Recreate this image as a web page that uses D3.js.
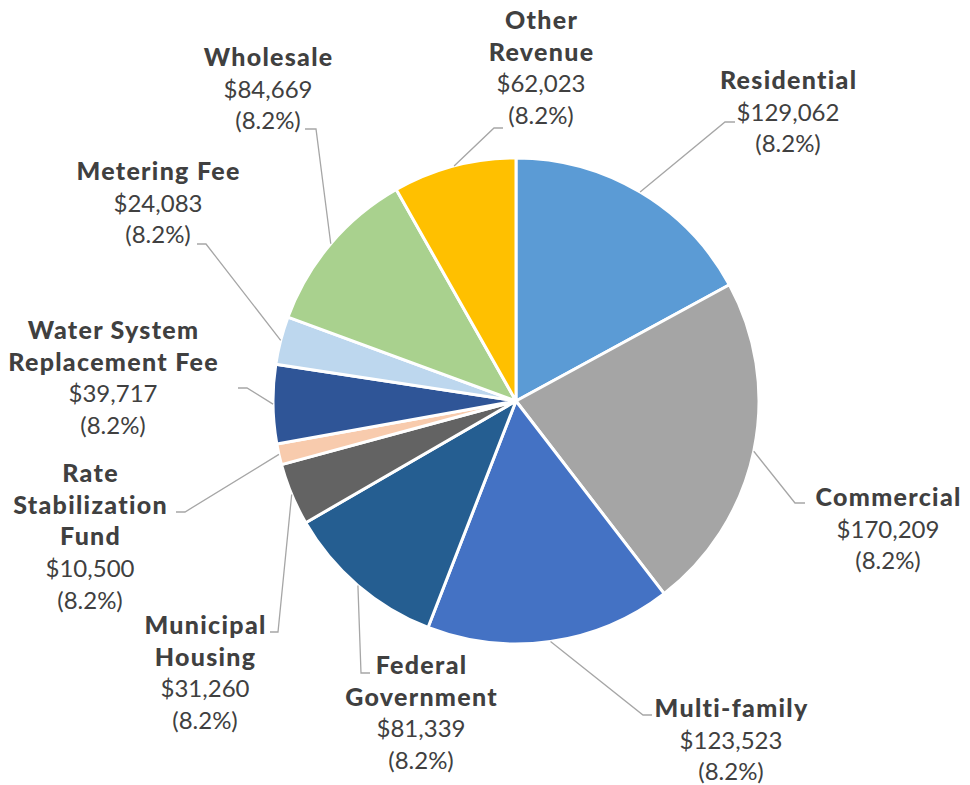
<!DOCTYPE html>
<html lang="en">
<head>
<meta charset="utf-8">
<title>Revenue pie</title>
<script src="https://cdn.jsdelivr.net/npm/d3@7"></script>
<style>
  html, body { margin: 0; padding: 0; background: #ffffff; }
  svg { display: block; font-family: Lato, "Open Sans", sans-serif; }
</style>
</head>
<body>
<script>
// chart data
var names = [["Residential"], ["Commercial"], ["Multi-family"], ["Federal", "Government"],
             ["Municipal", "Housing"], ["Rate", "Stabilization", "Fund"],
             ["Water System", "Replacement Fee"], ["Metering Fee"], ["Wholesale"], ["Other", "Revenue"]];
var amounts = [129062, 170209, 123523, 81339, 31260, 10500, 39717, 24083, 84669, 62023];
var pctLabels = ["(8.2%)", "(8.2%)", "(8.2%)", "(8.2%)", "(8.2%)", "(8.2%)", "(8.2%)", "(8.2%)", "(8.2%)", "(8.2%)"];
var colors = ["#5B9BD5", "#A5A5A5", "#4472C4", "#255E91", "#636363", "#F8CBAD", "#2F5597", "#BDD7EE", "#A9D18E", "#FFC000"];

// label layout: text centre x, first baseline y, leader elbow and end
var labelX = [788, 888, 731, 421, 205, 90, 113, 158, 268, 541];
var labelY = [89, 506, 717, 674, 634, 482, 339, 180, 66, 29];
var elbows = [[725, 122, 735], [795, 503, 805], [643, 715, 652], [361, 673, 370], [278, 632, 270],
              [185, 512, 176], [247, 388, 238], [206, 244, 197], [316, 129, 305], [494, 128, 503]];

var w = 970, h = 785;
var cx = 516, cy = 401, r = 243;
var lineH = 31.7;

var svg = d3.select("body").append("svg")
  .attr("width", w)
  .attr("height", h);

var pie = d3.pie().sort(null).value(function(d) { return d; });
var arcs = pie(amounts);
var arc = d3.arc().innerRadius(0).outerRadius(r);

var g = svg.append("g").attr("transform", "translate(" + cx + "," + cy + ")");

g.selectAll("path.slice")
  .data(arcs)
  .enter()
  .append("path")
  .attr("class", "slice")
  .attr("d", arc)
  .attr("fill", function(d, i) { return colors[i]; })
  .attr("stroke", "#ffffff")
  .attr("stroke-width", 3)
  .attr("stroke-linejoin", "round");

// leader lines
arcs.forEach(function(d, i) {
  var mid = (d.startAngle + d.endAngle) / 2;
  var sx = cx + r * Math.sin(mid);
  var sy = cy - r * Math.cos(mid);
  var e = elbows[i];
  svg.append("polyline")
    .attr("points", sx + "," + sy + " " + e[0] + "," + e[1] + " " + e[2] + "," + e[1])
    .attr("fill", "none")
    .attr("stroke", "#A6A6A6")
    .attr("stroke-width", 1.3);
});

// labels
names.forEach(function(nm, i) {
  var t = svg.append("text")
    .attr("text-anchor", "middle")
    .attr("fill", "#404040");
  var lines = nm.map(function(s) { return { s: s, bold: true }; });
  lines.push({ s: "$" + d3.format(",")(amounts[i]), bold: false });
  lines.push({ s: pctLabels[i], bold: false });
  lines.forEach(function(l, k) {
    t.append("tspan")
      .attr("x", labelX[i] + (l.bold ? 0.6 : 0))
      .attr("y", labelY[i] + k * lineH)
      .attr("font-weight", l.bold ? 900 : 400)
      .attr("font-size", l.bold ? "25px" : "24px")
      .attr("letter-spacing", l.bold ? "1.3px" : "0px")
      .text(l.s);
  });
});
</script>
</body>
</html>
